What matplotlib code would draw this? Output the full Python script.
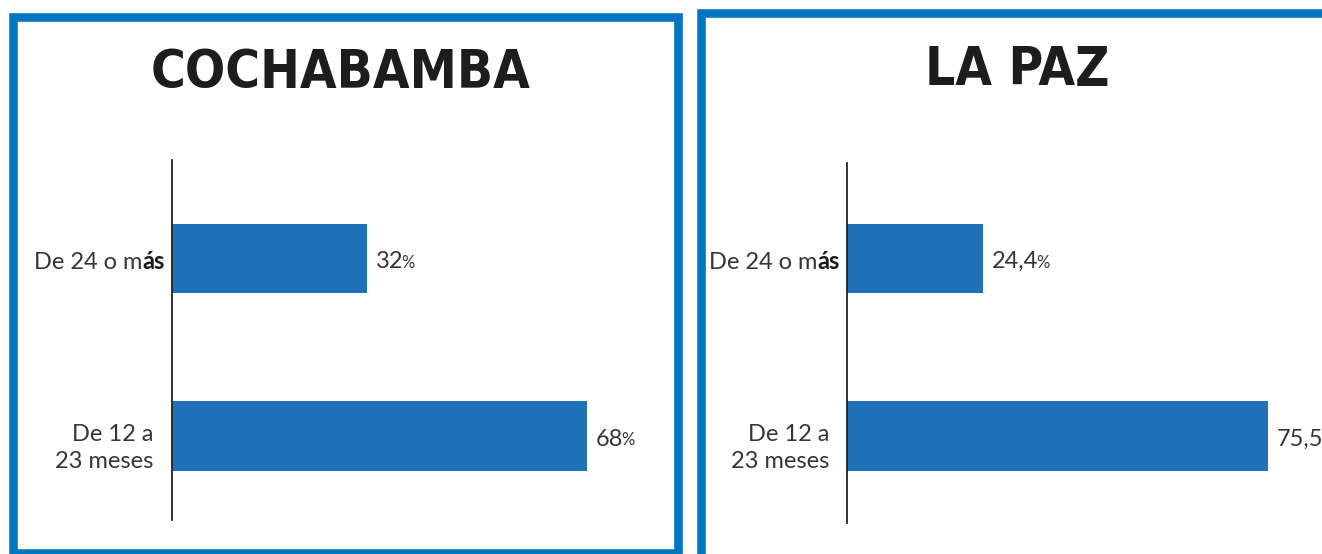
import matplotlib.pyplot as plt
from matplotlib.patches import Rectangle
from matplotlib.transforms import offset_copy

# datos
categorias = ['De 12 a\n23 meses', 'De 24 o más']
cochabamba = [68, 32]
la_paz = [75.5, 24.4]
etiquetas_cbba = ['68', '32']
etiquetas_lpz = ['75,5', '24,4']

W, H = 1322, 554
azul_barra = '#1f71b8'
azul_borde = '#0077c0'
gris = '#363636'
fuente = ['Lato', 'DejaVu Sans']
fuente_titulo = ['DejaVu Sans']
peso = 'normal'

fig = plt.figure(figsize=(W / 100, H / 100), dpi=100)


def px(x0, y0, x1, y1):
    # caja en pixeles (arriba-izquierda) -> coordenadas de figura
    return [x0 / W, 1 - y1 / H, (x1 - x0) / W, (y1 - y0) / H]


def borde(x0, y0, x1, y1):
    r = Rectangle((x0 / W, 1 - y1 / H), (x1 - x0) / W, (y1 - y0) / H,
                  transform=fig.transFigure, fill=False,
                  edgecolor=azul_borde, linewidth=6.2)
    fig.add_artist(r)


def panel(caja, ylim, valores, etiquetas, titulo, tx, ty, mostrar_pct, dx):
    ax = fig.add_axes(caja)
    ax.barh([0, 1], valores, height=0.39, color=azul_barra)
    ax.set_xlim(0, 80)
    ax.set_ylim(*ylim)
    for s in ['top', 'right', 'bottom']:
        ax.spines[s].set_visible(False)
    ax.spines['left'].set_linewidth(1.3)
    ax.spines['left'].set_color('#222222')
    ax.set_xticks([])
    ax.set_yticks([])

    # etiquetas de categoria
    tr = offset_copy(ax.get_yaxis_transform(), fig=fig, x=-dx, y=-12,
                     units='dots')
    ax.text(0, 0.0, categorias[0], transform=tr,
            ha='right', va='center', fontsize=17, family=fuente,
            fontweight=peso, color=gris, linespacing=1.38)
    tr2 = offset_copy(ax.get_yaxis_transform(), fig=fig, x=-7, y=-3,
                      units='dots')
    t = ax.text(0, 1.0, 'ás', transform=tr2,
                ha='right', va='center', fontsize=17, family=fuente,
                fontweight='bold', color='#1a1a1a')
    ax.annotate('De 24 o m', xy=(0, 0), xycoords=t, ha='right', va='bottom',
                fontsize=17, family=fuente, fontweight=peso, color=gris)

    # valores
    for i, (v, lab) in enumerate(zip(valores, etiquetas)):
        n = ax.annotate(lab, xy=(v, i), xytext=(9, -3),
                        textcoords='offset pixels', ha='left', va='center',
                        fontsize=17, family=fuente, fontweight=peso,
                        color=gris, annotation_clip=False)
        if mostrar_pct[i]:
            ax.annotate('%', xy=(1, 0.05), xycoords=n, xytext=(-2, 0),
                        textcoords='offset pixels', ha='left',
                        va='bottom', fontsize=12, family=fuente,
                        fontweight=peso, color=gris)

    fig.text(tx / W, 1 - ty / H, titulo, ha='center', va='center',
             fontsize=38, family=fuente_titulo, fontweight='bold',
             fontstretch='condensed', color='#1d1d1b')
    return ax


borde(13, 16.5, 677.5, 553)
borde(700.5, 12.5, 1340, 557.5)

panel(px(172, 160, 172 + 80 * 6.1, 520), (-0.473, 1.555), cochabamba,
      etiquetas_cbba, 'COCHABAMBA', 341, 73, [True, True], 19)
panel(px(847, 163, 847 + 80 * 5.575, 523), (-0.49, 1.538), la_paz,
      etiquetas_lpz, 'LA PAZ', 1017, 70, [False, True], 18)

fig.savefig('out.png', dpi=100)
